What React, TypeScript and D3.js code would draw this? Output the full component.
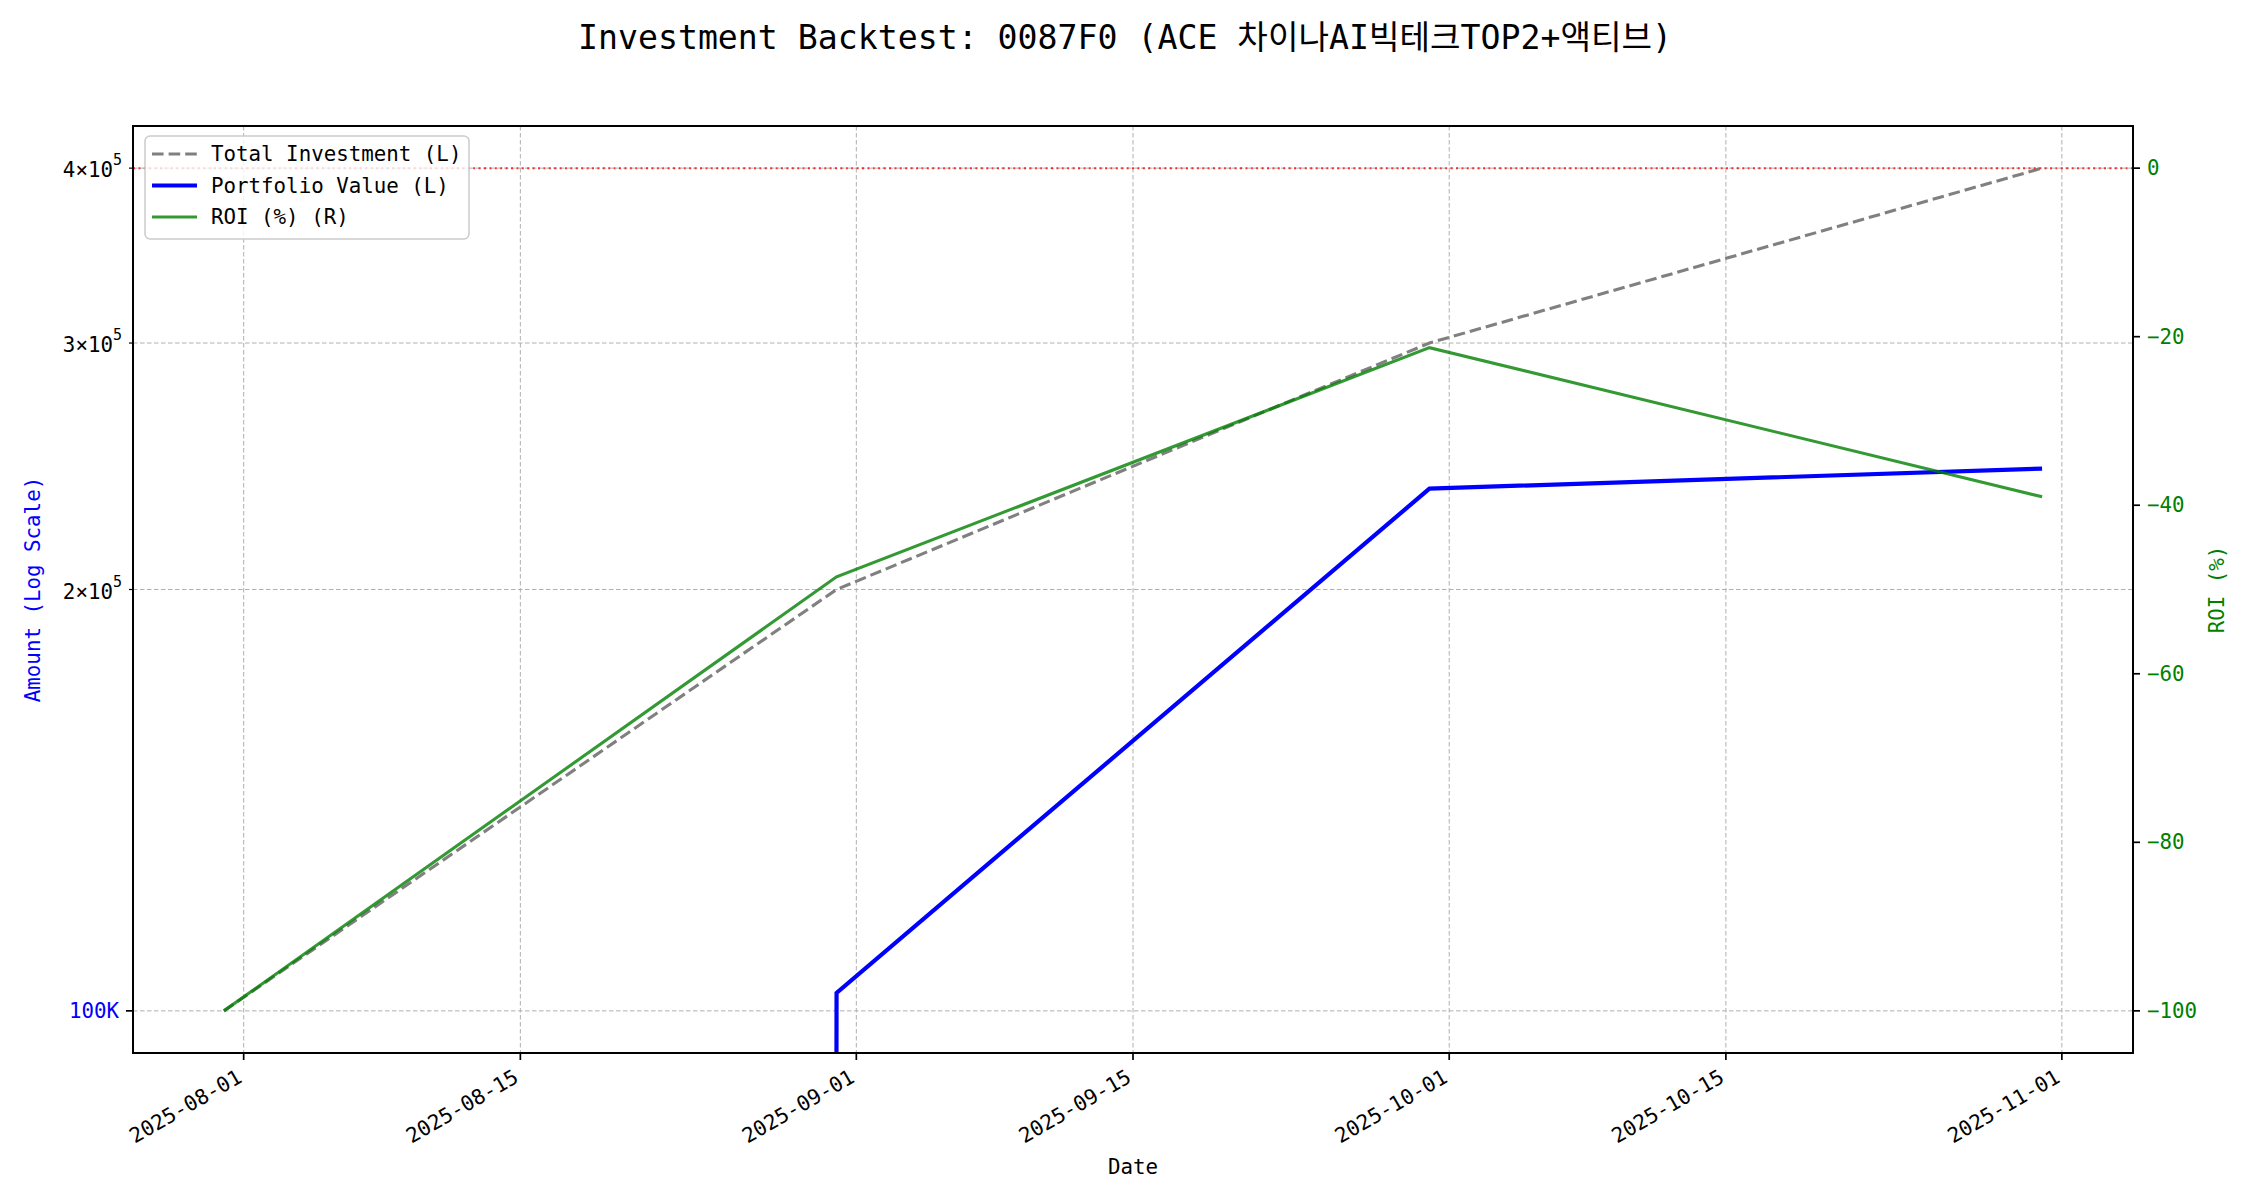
import React from "react";
import * as d3 from "d3";

// ---- data ----
const dates = ["2025-07-31", "2025-08-31", "2025-09-30", "2025-10-31"];
const totalInvestment = [100000, 200000, 300000, 400000];
const portfolioValue = [0, 103000, 236100, 244000];
const roiPct = [-100, -48.5, -21.3, -39.0];
const xTickDates = ["2025-08-01", "2025-08-15", "2025-09-01", "2025-09-15", "2025-10-01", "2025-10-15", "2025-11-01"];
const leftMajorTicks = [100000];
const leftMajorLabels = ["100K"];
const leftMinorTicks = [200000, 300000, 400000];
const leftMinorMantissa = ["2", "3", "4"];
const rightTicks = [0, -20, -40, -60, -80, -100];
const legendLabels = ["Total Investment (L)", "Portfolio Value (L)", "ROI (%) (R)"];
const titleText = "Investment Backtest: 0087F0 (ACE 차이나AI빅테크TOP2+액티브)";
const xLabelText = "Date";
const yLeftLabelText = "Amount (Log Scale)";
const yRightLabelText = "ROI (%)";

const FONT = "'DejaVu Sans Mono', 'Noto Sans CJK KR', monospace";

export default function App() {
  const W = 2250, H = 1200;
  const L = 133, R = 2133, T = 126, B = 1053;
  const FS = 20.8;

  const parse = d3.utcParse("%Y-%m-%d");
  const xDates = dates.map((d) => parse(d) as Date);
  const [d0, d1] = d3.extent(xDates) as [Date, Date];
  const pad = (d1.getTime() - d0.getTime()) * 0.05;
  const x = d3.scaleUtc().domain([new Date(d0.getTime() - pad), new Date(d1.getTime() + pad)]).range([L, R]);

  const minI = d3.min(totalInvestment) as number;
  const maxI = d3.max(totalInvestment) as number;
  const f = Math.pow(maxI / minI, 0.05);
  const yL = d3.scaleLog().domain([minI / f, maxI * f]).range([B, T]);

  const rMin = d3.min(roiPct) as number;
  const rMax = 0;
  const rPad = (rMax - rMin) * 0.05;
  const yR = d3.scaleLinear().domain([rMin - rPad, rMax + rPad]).range([B, T]);

  const lineL = d3
    .line<number>()
    .x((_, i) => x(xDates[i]))
    .y((v) => yL(Math.max(v, 1e-300)));
  const lineR = d3
    .line<number>()
    .x((_, i) => x(xDates[i]))
    .y((v) => yR(v));

  const xTicks = xTickDates.map((d) => parse(d) as Date);
  const gridStyle = { stroke: "#b0b0b0", strokeWidth: 1, strokeDasharray: "4.5,2.5" };

  const legendColors = ["gray", "blue", "green"];
  const legendWidths = [3.1, 4.2, 3.1];
  const legendDash = ["11.6,5", undefined, undefined];
  const legendOpacity = [1, 1, 0.8];

  return (
    <svg width={W} height={H} style={{ position: "absolute", left: 0, top: 0, background: "#fff" }} fontFamily={FONT}>
      <defs>
        <clipPath id="plot">
          <rect x={L} y={T} width={R - L} height={B - T} />
        </clipPath>
      </defs>
      <rect x={0} y={0} width={W} height={H} fill="#fff" />

      {/* title */}
      <text x={W / 2} y={37} textAnchor="middle" dominantBaseline="central" fontSize={33.2} fill="#000">
        {titleText}
      </text>

      {/* grid */}
      <g>
        {xTicks.map((d, i) => (
          <line key={"gx" + i} x1={x(d)} x2={x(d)} y1={T} y2={B} {...gridStyle} />
        ))}
        {[...leftMajorTicks, ...leftMinorTicks].map((v, i) => (
          <line key={"gy" + i} x1={L} x2={R} y1={yL(v)} y2={yL(v)} {...gridStyle} />
        ))}
      </g>

      {/* lines */}
      <g clipPath="url(#plot)">
        <path d={lineL(totalInvestment) || ""} fill="none" stroke="gray" strokeWidth={3.1} strokeDasharray="11.6,5" />
        <path d={lineL(portfolioValue) || ""} fill="none" stroke="blue" strokeWidth={4.2} strokeLinejoin="miter" />
        <path d={lineR(roiPct) || ""} fill="none" stroke="green" strokeOpacity={0.8} strokeWidth={3.1} />
        <line x1={L} x2={R} y1={yR(0)} y2={yR(0)} stroke="red" strokeOpacity={0.8} strokeWidth={2} strokeDasharray="2,3.4" />
      </g>

      {/* spines */}
      <rect x={L} y={T} width={R - L} height={B - T} fill="none" stroke="#000" strokeWidth={2} />

      {/* x ticks */}
      {xTicks.map((d, i) => (
        <g key={"xt" + i}>
          <line x1={x(d)} x2={x(d)} y1={B} y2={B + 7} stroke="#000" strokeWidth={1.7} />
          <text
            transform={`translate(${x(d) - 8},${B + 15}) rotate(-30)`}
            textAnchor="end"
            dominantBaseline="hanging"
            fontSize={FS}
            fill="#000"
          >
            {xTickDates[i]}
          </text>
        </g>
      ))}
      <text x={(L + R) / 2} y={1167} textAnchor="middle" dominantBaseline="central" fontSize={FS} fill="#000">
        {xLabelText}
      </text>

      {/* left ticks */}
      {leftMajorTicks.map((v, i) => (
        <g key={"lm" + i}>
          <line x1={L - 7} x2={L} y1={yL(v)} y2={yL(v)} stroke="#000" strokeWidth={1.7} />
          <text x={L - 14} y={yL(v)} textAnchor="end" dominantBaseline="central" fontSize={FS} fill="blue">
            {leftMajorLabels[i]}
          </text>
        </g>
      ))}
      {leftMinorTicks.map((v, i) => (
        <g key={"ln" + i}>
          <line x1={L - 4} x2={L} y1={yL(v)} y2={yL(v)} stroke="#000" strokeWidth={1.2} />
          <text x={L - 11} y={yL(v) + 2} textAnchor="end" dominantBaseline="central" fontSize={FS} fill="#000">
            {leftMinorMantissa[i]}
            <tspan fontSize={FS}>{"\u00d7"}</tspan>
            {"10"}
            <tspan fontSize={15} dy={-10}>
              {"5"}
            </tspan>
          </text>
        </g>
      ))}
      <text
        transform={`translate(33,${(T + B) / 2}) rotate(-90)`}
        textAnchor="middle"
        dominantBaseline="central"
        fontSize={FS}
        fill="blue"
      >
        {yLeftLabelText}
      </text>

      {/* right ticks */}
      {rightTicks.map((v, i) => (
        <g key={"rt" + i}>
          <line x1={R} x2={R + 7} y1={yR(v)} y2={yR(v)} stroke="#000" strokeWidth={1.7} />
          <text x={R + 14} y={yR(v)} textAnchor="start" dominantBaseline="central" fontSize={FS} fill="green">
            {v < 0 ? "\u2212" + Math.abs(v) : String(v)}
          </text>
        </g>
      ))}
      <text
        transform={`translate(2217,${(T + B) / 2}) rotate(-90)`}
        textAnchor="middle"
        dominantBaseline="central"
        fontSize={FS}
        fill="green"
      >
        {yRightLabelText}
      </text>

      {/* legend */}
      <g>
        <rect x={145} y={136} width={324} height={103} rx={5} fill="#fff" fillOpacity={0.8} stroke="#cccccc" strokeWidth={1.5} />
        {legendLabels.map((lab, i) => {
          const yy = 154 + i * 31.5;
          return (
            <g key={"lg" + i}>
              <line
                x1={152}
                x2={197}
                y1={yy}
                y2={yy}
                stroke={legendColors[i]}
                strokeOpacity={legendOpacity[i]}
                strokeWidth={legendWidths[i]}
                strokeDasharray={legendDash[i]}
              />
              <text x={211} y={yy} dominantBaseline="central" fontSize={FS} fill="#000">
                {lab}
              </text>
            </g>
          );
        })}
      </g>
    </svg>
  );
}
